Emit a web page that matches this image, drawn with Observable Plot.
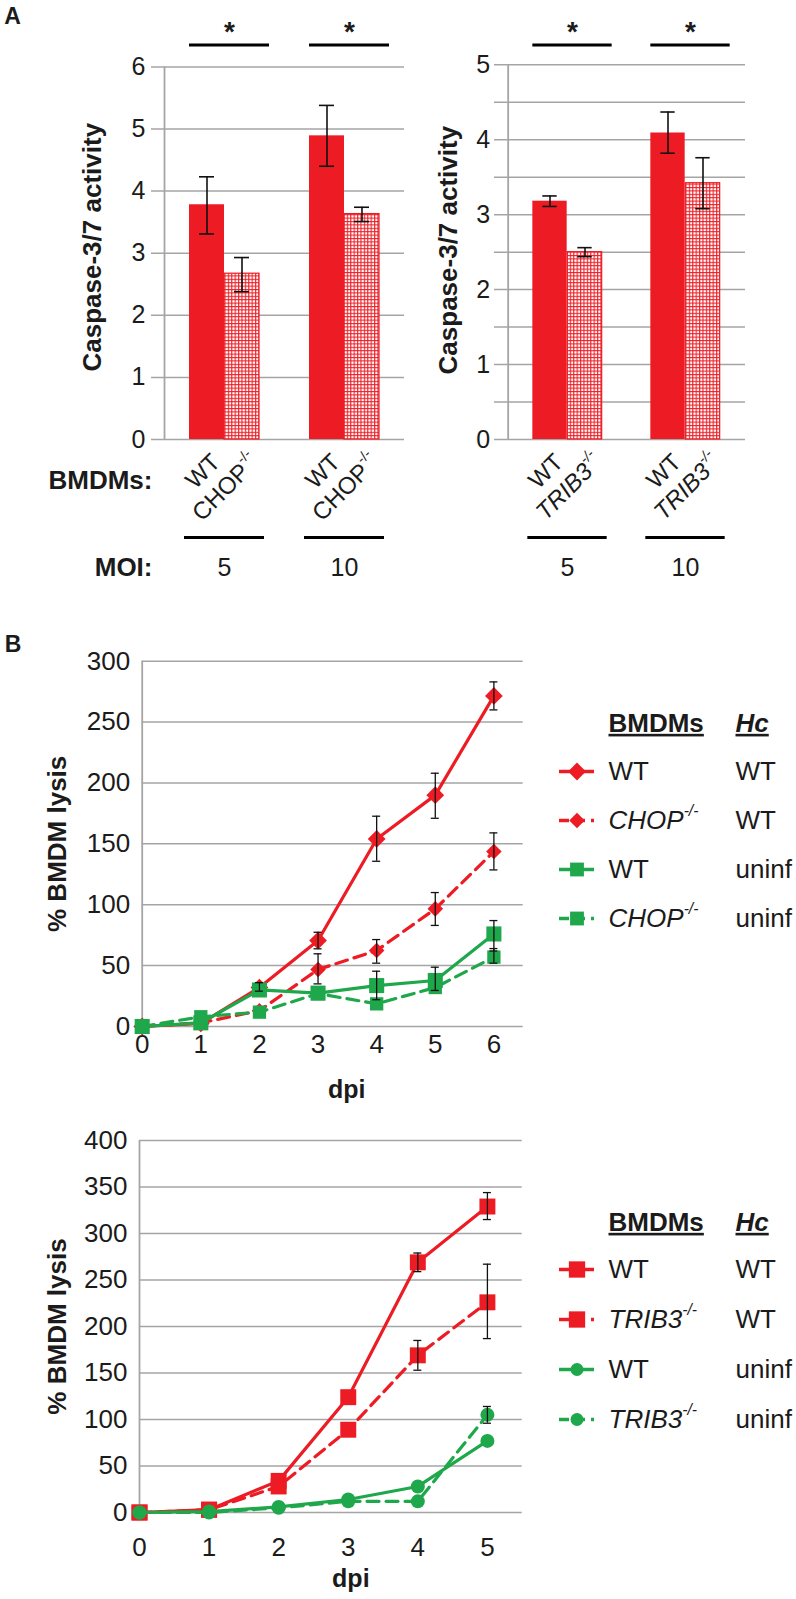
<!DOCTYPE html>
<html><head><meta charset="utf-8">
<script src="https://cdn.jsdelivr.net/npm/d3@7"></script>
<script src="https://cdn.jsdelivr.net/npm/@observablehq/plot@0.6"></script>
<style>
body{margin:0;background:#fff;}
#fig{position:relative;width:796px;height:1599px;overflow:hidden;background:#fff;}
#fig svg{position:absolute;}
</style></head><body><div id="fig"></div>
<script>
// ---------------- DATA ----------------
// Panel A (caspase-3/7 activity)
const moiLevels = ["5", "10"];
const genoLeft = ["WT", "CHOP-/-"];
const genoRight = ["WT", "TRIB3-/-"];
const caspWT_L = [3.78, 4.89];
const caspWT_L_hi = [4.23, 5.38];
const caspWT_L_lo = [3.31, 4.40];
const caspCHOP = [2.67, 3.63];
const caspCHOP_hi = [2.93, 3.74];
const caspCHOP_lo = [2.38, 3.51];
const caspWT_R = [3.18, 4.09];
const caspWT_R_hi = [3.25, 4.37];
const caspWT_R_lo = [3.11, 3.82];
const caspTRIB3 = [2.50, 3.42];
const caspTRIB3_hi = [2.56, 3.76];
const caspTRIB3_lo = [2.44, 3.08];
const gridA_L = [0, 1, 2, 3, 4, 5, 6];
const ticksA_L = [0, 1, 2, 3, 4, 5, 6];
const gridA_R = [0, 0.5, 1, 1.5, 2, 2.5, 3, 3.5, 4, 4.5, 5];
const ticksA_R = [0, 1, 2, 3, 4, 5];

// Panel B top (CHOP)
const dpiTop = [0, 1, 2, 3, 4, 5, 6];
const lysWT_WT = [0, 2.5, 32, 70.6, 154, 190, 271.5];
const lysWT_WT_hi = [null, null, 36, 77.4, 172.7, 208, 283];
const lysWT_WT_lo = [null, null, 29, 63.8, 135.7, 171, 260];
const lysCHOP_WT = [0, 3, 13, 46.8, 62.4, 96.6, 143.7];
const lysCHOP_WT_hi = [null, null, null, 59.7, 71.4, 110, 159];
const lysCHOP_WT_lo = [null, null, null, 35, 52, 83, 128.6];
const lysWT_un = [0, 3, 30, 27.4, 33.6, 37.8, 76];
const lysWT_un_hi = [null, null, null, null, 45.4, 48.7, 87];
const lysWT_un_lo = [null, null, null, null, 22, 29.6, 62];
const lysCHOP_un = [0, 8, 11.8, 27, 18.6, 32, 57];
const lysCHOP_un_hi = [null, null, null, null, null, null, 64];
const lysCHOP_un_lo = [null, null, null, null, null, null, 52];
const gridB_top = [0, 50, 100, 150, 200, 250, 300];

// Panel B bottom (TRIB3)
const dpiBot = [0, 1, 2, 3, 4, 5];
const lysWT_WT2 = [0, 3, 34, 124, 269, 329];
const lysWT_WT2_hi = [null, null, null, null, 279, 344];
const lysWT_WT2_lo = [null, null, null, null, 259, 315];
const lysTRIB_WT = [0, 3, 28, 89, 169, 226];
const lysTRIB_WT_hi = [null, null, null, null, 185, 267];
const lysTRIB_WT_lo = [null, null, null, null, 153, 187];
const lysWT_un2 = [0, 1, 6, 14, 28, 77];
const lysTRIB_un = [0, 0, 5, 12, 12, 105];
const lysTRIB_un_hi = [null, null, null, null, null, 114];
const lysTRIB_un_lo = [null, null, null, null, null, 96];
const gridB_bot = [0, 50, 100, 150, 200, 250, 300, 350, 400];

const bmdmTop = ["WT", "CHOP-/-", "WT", "CHOP-/-"];
const bmdmBot = ["WT", "TRIB3-/-", "WT", "TRIB3-/-"];
const hcLabels = ["WT", "WT", "uninf", "uninf"];

// ---------------- STYLE ----------------
const FONT = '"Liberation Sans", Arial, Helvetica, sans-serif';
const RED = "#ED1C24", GREEN = "#1EA84B", GRID = "#A5A5A5", INK = "#1b1b1b";
const ns = "http://www.w3.org/2000/svg";
const fig = document.getElementById("fig");

function place(svg, left, top) { svg.style.left = left + "px"; svg.style.top = top + "px"; fig.appendChild(svg); }

function superscripts(svg) {
  svg.querySelectorAll("text, tspan").forEach(el => {
    if (el.children.length) return;
    const s = el.textContent;
    const m = s.match(/^(.*[A-Za-z0-9])(-\/-)$/);
    if (!m) return;
    el.textContent = m[1];
    const sup = document.createElementNS(ns, "tspan");
    sup.setAttribute("font-size", "0.6em");
    sup.setAttribute("dy", "-0.85em");
    sup.textContent = m[2];
    el.appendChild(sup);
  });
}
function addHatch(svg, id) {
  const defs = document.createElementNS(ns, "defs");
  defs.innerHTML = `<pattern id="${id}" width="3.4" height="3.4" patternUnits="userSpaceOnUse">
    <rect width="3.4" height="3.4" fill="#fff"/>
    <path d="M0 0.6H3.4M0.6 0V3.4" stroke="${RED}" stroke-width="1.1" fill="none"/></pattern>`;
  svg.insertBefore(defs, svg.firstChild);
}

function barChart(c) {
  const bw = (c.width - c.marginLeft - c.marginRight) / moiLevels.length;
  const half = 17.5, cap = 7.5;
  const wtRows = moiLevels.map((m, i) => ({moi: m, v: c.wt[i], hi: c.wtHi[i], lo: c.wtLo[i], geno: c.geno[0]}));
  const mutRows = moiLevels.map((m, i) => ({moi: m, v: c.mut[i], hi: c.mutHi[i], lo: c.mutLo[i], geno: c.geno[1]}));
  const yMax = c.grid[c.grid.length - 1];
  const errStyle = {stroke: "#111", strokeWidth: 1.6};
  const marks = [
    Plot.ruleY(c.grid, {stroke: GRID, strokeWidth: 1.5, insetLeft: -c.tickOut}),
    Plot.ruleX([moiLevels[0]], {x: d => d, dx: -bw / 2, stroke: GRID, strokeWidth: 1.8}),
    Plot.barY(wtRows, {x: "moi", y: "v", fill: RED, insetLeft: bw / 2 - 2 * half, insetRight: bw / 2}),
    Plot.barY(mutRows, {x: "moi", y: "v", fill: `url(#${c.hatch})`, stroke: RED, strokeWidth: 1.2, insetLeft: bw / 2, insetRight: bw / 2 - 2 * half}),
    Plot.ruleX(wtRows, {x: "moi", y1: "lo", y2: "hi", dx: -half, ...errStyle}),
    Plot.ruleX(mutRows, {x: "moi", y1: "lo", y2: "hi", dx: half, ...errStyle}),
    Plot.tickY(wtRows, {x: "moi", y: "hi", insetLeft: bw / 2 - half - cap, insetRight: bw / 2 + half - cap, ...errStyle}),
    Plot.tickY(wtRows, {x: "moi", y: "lo", insetLeft: bw / 2 - half - cap, insetRight: bw / 2 + half - cap, ...errStyle}),
    Plot.tickY(mutRows, {x: "moi", y: "hi", insetLeft: bw / 2 + half - cap, insetRight: bw / 2 - half - cap, ...errStyle}),
    Plot.tickY(mutRows, {x: "moi", y: "lo", insetLeft: bw / 2 + half - cap, insetRight: bw / 2 - half - cap, ...errStyle}),
    // significance bars and stars
    Plot.tickY(moiLevels, {x: d => d, y: () => yMax, dy: c.starLineDy, insetLeft: bw / 2 - 35, insetRight: bw / 2 - 45, stroke: "#000", strokeWidth: 3}),
    Plot.text(moiLevels, {x: d => d, text: () => "*", frameAnchor: "top", lineAnchor: "middle", dx: 5, dy: c.starDy, fontSize: 28, fontWeight: "bold"}),
    // genotype labels (rotated)
    Plot.text(wtRows, {x: "moi", text: "geno", frameAnchor: "bottom", rotate: -45, textAnchor: "end", lineAnchor: "top", dx: -15, dy: 12, fontSize: 24}),
    Plot.text(mutRows, {x: "moi", text: "geno", frameAnchor: "bottom", rotate: -45, textAnchor: "end", lineAnchor: "top", dx: 24, dy: 12, fontSize: 24, fontStyle: c.mutItalic ? "italic" : "normal"}),
    // MOI underline and numbers
    Plot.tickY(moiLevels, {x: d => d, y: () => 0, dy: 98, insetLeft: bw / 2 - 40, insetRight: bw / 2 - 40, stroke: "#000", strokeWidth: 3}),
    Plot.text(moiLevels, {x: d => d, frameAnchor: "bottom", lineAnchor: "middle", dy: 128, fontSize: 25}),
    // y title
    Plot.text([c.title], {frameAnchor: "left", textAnchor: "middle", lineAnchor: "middle", rotate: -90, dx: c.titleDx, dy: c.titleDy, fontSize: 26, fontWeight: "bold"})
  ];
  if (c.rowLabels) {
    marks.push(
      Plot.text(["BMDMs:"], {frameAnchor: "bottom-left", dx: -12, dy: 41, textAnchor: "end", lineAnchor: "middle", fontSize: 26, fontWeight: "bold"}),
      Plot.text(["MOI:"], {frameAnchor: "bottom-left", dx: -12, dy: 128, textAnchor: "end", lineAnchor: "middle", fontSize: 26, fontWeight: "bold"}),
      Plot.text(["A"], {frameAnchor: "top-left", textAnchor: "middle", lineAnchor: "middle", dx: 12 - c.marginLeft, dy: 16 - c.marginTop, fontSize: 23, fontWeight: "bold"})
    );
  }
  const svg = Plot.plot({
    width: c.width, height: c.height,
    marginLeft: c.marginLeft, marginRight: c.marginRight, marginTop: c.marginTop, marginBottom: c.marginBottom,
    style: {fontFamily: FONT, fontSize: "25px", color: INK, background: "transparent", overflow: "visible"},
    x: {type: "band", domain: moiLevels, padding: 0, axis: null},
    y: {domain: [0, yMax], ticks: c.labels, tickSize: 0, tickPadding: c.tickPad, label: null, tickFormat: d => String(d)},
    marks
  });
  addHatch(svg, c.hatch);
  superscripts(svg);
  return svg;
}

function lineChart(c) {
  const marks = [
    Plot.ruleY(c.grid, {stroke: GRID, strokeWidth: 1.5}),
    Plot.ruleX([0], {stroke: GRID, strokeWidth: 1.8})
  ];
  for (const s of c.series) {
    const rows = s.values.map((v, i) => ({x: c.dpi[i], y: v}));
    marks.push(Plot.line(rows, {x: "x", y: "y", stroke: s.color, strokeWidth: 3.2, strokeDasharray: s.dashed ? "12,7" : undefined}));
    marks.push(Plot.dot(rows, {x: "x", y: "y", fill: s.color, symbol: s.symbol, r: s.r}));
  }
  for (const s of c.series) {
    if (!s.hi) continue;
    const err = s.values.map((v, i) => ({x: c.dpi[i], hi: s.hi[i], lo: s.lo[i]})).filter(d => d.hi != null);
    marks.push(Plot.ruleX(err, {x: "x", y1: "lo", y2: "hi", stroke: "#111", strokeWidth: 1.3}));
    marks.push(Plot.ruleY(err, {y: "hi", x1: "x", x2: "x", insetLeft: -4, insetRight: -4, stroke: "#111", strokeWidth: 1.3}));
    marks.push(Plot.ruleY(err, {y: "lo", x1: "x", x2: "x", insetLeft: -4, insetRight: -4, stroke: "#111", strokeWidth: 1.3}));
  }
  marks.push(
    Plot.text(["% BMDM lysis"], {frameAnchor: "left", textAnchor: "middle", lineAnchor: "middle", rotate: -90, dx: c.titleDx, fontSize: 26, fontWeight: "bold"}),
    Plot.text(["dpi"], {frameAnchor: "bottom", lineAnchor: "middle", dx: c.dpiDx, dy: c.dpiDy, fontSize: 25, fontWeight: "bold"})
  );
  if (c.panel) marks.push(Plot.text([c.panel], {frameAnchor: "top-left", textAnchor: "middle", lineAnchor: "middle", dx: 12.5 - c.marginLeft, dy: c.panelDy, fontSize: 23, fontWeight: "bold"}));
  return Plot.plot({
    width: c.width, height: c.height,
    marginLeft: c.marginLeft, marginRight: c.marginRight, marginTop: c.marginTop, marginBottom: c.marginBottom,
    style: {fontFamily: FONT, fontSize: "26px", color: INK, background: "transparent", overflow: "visible"},
    x: {domain: [0, c.dpi[c.dpi.length - 1] + 0.5], ticks: c.dpi, tickSize: 0, tickPadding: c.xPad, label: null, tickFormat: d => String(d)},
    y: {domain: [0, c.grid[c.grid.length - 1]], ticks: c.grid, tickSize: 0, tickPadding: 12, label: null, tickFormat: d => String(d)},
    marks
  });
}

function legendChart(c) {
  const rows = c.series.map((s, i) => ({i, bmdm: c.bmdm[i], hc: c.hc[i], ...s}));
  const marks = [];
  for (const r of rows) {
    marks.push(Plot.ruleY([r], {y: "i", stroke: r.color, strokeWidth: 3.5, strokeDasharray: r.dashed ? "10,6" : undefined}));
    marks.push(Plot.dot([r], {y: "i", frameAnchor: "left", dx: 17.5, symbol: r.symbol, fill: r.color, r: r.lr}));
  }
  marks.push(
    Plot.text(rows.filter(r => r.bmdm === "WT"), {y: "i", text: "bmdm", frameAnchor: "left", dx: 49, textAnchor: "start", lineAnchor: "middle", fontSize: 26}),
    Plot.text(rows.filter(r => r.bmdm !== "WT"), {y: "i", text: "bmdm", frameAnchor: "left", dx: 49, textAnchor: "start", lineAnchor: "middle", fontSize: 26, fontStyle: "italic"}),
    Plot.text(rows, {y: "i", text: "hc", frameAnchor: "left", dx: 176, textAnchor: "start", lineAnchor: "middle", fontSize: 26}),
    Plot.text(["BMDMs"], {frameAnchor: "top-left", dx: 49, dy: c.headerDy, textAnchor: "start", lineAnchor: "middle", fontSize: 26, fontWeight: "bold"}),
    Plot.text(["Hc"], {frameAnchor: "top-left", dx: 176, dy: c.headerDy, textAnchor: "start", lineAnchor: "middle", fontSize: 26, fontWeight: "bold", fontStyle: "italic"})
  );
  const svg = Plot.plot({
    width: 256, height: c.height, marginLeft: 19, marginRight: 256 - 19 - 35, marginTop: 0, marginBottom: 0,
    style: {fontFamily: FONT, fontSize: "26px", color: INK, background: "transparent", overflow: "visible"},
    y: {type: "point", domain: rows.map(r => r.i), range: c.range, padding: 0, axis: null},
    marks
  });
  svg.querySelectorAll("text").forEach(t => {
    if (t.textContent === "BMDMs" || t.textContent === "Hc") t.setAttribute("text-decoration", "underline");
  });
  superscripts(svg);
  return svg;
}

// ---------------- BUILD ----------------
place(barChart({
  width: 410, height: 600, marginLeft: 164, marginRight: 6, marginTop: 66.4, marginBottom: 161,
  grid: gridA_L, labels: ticksA_L, tickOut: 13, tickPad: 19,
  wt: caspWT_L, wtHi: caspWT_L_hi, wtLo: caspWT_L_lo,
  mut: caspCHOP, mutHi: caspCHOP_hi, mutLo: caspCHOP_lo, geno: genoLeft, mutItalic: false,
  title: "Caspase-3/7 activity", titleDx: -72, titleDy: -6,
  starDy: -34.4, starLineDy: -21.8, rowLabels: true, hatch: "hatchL"
}), 0, 0);

place(barChart({
  width: 386, height: 600, marginLeft: 97.7, marginRight: 51, marginTop: 64.3, marginBottom: 161,
  grid: gridA_R, labels: ticksA_R, tickOut: 13.7, tickPad: 18,
  wt: caspWT_R, wtHi: caspWT_R_hi, wtLo: caspWT_R_lo,
  mut: caspTRIB3, mutHi: caspTRIB3_hi, mutLo: caspTRIB3_lo, geno: genoRight, mutItalic: true,
  title: "Caspase-3/7 activity", titleDx: -59.7, titleDy: -2,
  starDy: -32.3, starLineDy: -19.7, rowLabels: false, hatch: "hatchR"
}), 410, 0);

const seriesTop = [
  {values: lysWT_WT, hi: lysWT_WT_hi, lo: lysWT_WT_lo, color: RED, dashed: false, symbol: "diamond2", r: 8, lr: 8},
  {values: lysCHOP_WT, hi: lysCHOP_WT_hi, lo: lysCHOP_WT_lo, color: RED, dashed: true, symbol: "diamond2", r: 7, lr: 7},
  {values: lysWT_un, hi: lysWT_un_hi, lo: lysWT_un_lo, color: GREEN, dashed: false, symbol: "square", r: 8.5, lr: 7.8},
  {values: lysCHOP_un, hi: lysCHOP_un_hi, lo: lysCHOP_un_lo, color: GREEN, dashed: true, symbol: "square", r: 7.5, lr: 7.8}
];
const seriesBot = [
  {values: lysWT_WT2, hi: lysWT_WT2_hi, lo: lysWT_WT2_lo, color: RED, dashed: false, symbol: "square", r: 9, lr: 9.2},
  {values: lysTRIB_WT, hi: lysTRIB_WT_hi, lo: lysTRIB_WT_lo, color: RED, dashed: true, symbol: "square", r: 9, lr: 9.2},
  {values: lysWT_un2, color: GREEN, dashed: false, symbol: "circle", r: 7, lr: 6.5},
  {values: lysTRIB_un, hi: lysTRIB_un_hi, lo: lysTRIB_un_lo, color: GREEN, dashed: true, symbol: "circle", r: 7, lr: 6.5}
];

place(lineChart({
  width: 540, height: 490, marginLeft: 141.7, marginRight: 17.3, marginTop: 40.7, marginBottom: 84,
  dpi: dpiTop, grid: gridB_top, series: seriesTop, xPad: 8,
  titleDx: -84.7, dpiDx: 14, dpiDy: 63, panel: "B", panelDy: -17
}), 0, 620);

place(legendChart({series: seriesTop, bmdm: bmdmTop, hc: hcLabels, height: 270, range: [90, 238], headerDy: 43}), 540, 680);

place(lineChart({
  width: 540, height: 489, marginLeft: 139, marginRight: 18.3, marginTop: 30, marginBottom: 87,
  dpi: dpiBot, grid: gridB_bot, series: seriesBot, xPad: 25,
  titleDx: -82, dpiDx: 20, dpiDy: 66
}), 0, 1110);

place(legendChart({series: seriesBot, bmdm: bmdmBot, hc: hcLabels, height: 270, range: [88, 240], headerDy: 42}), 540, 1180);
</script>
</body></html>
